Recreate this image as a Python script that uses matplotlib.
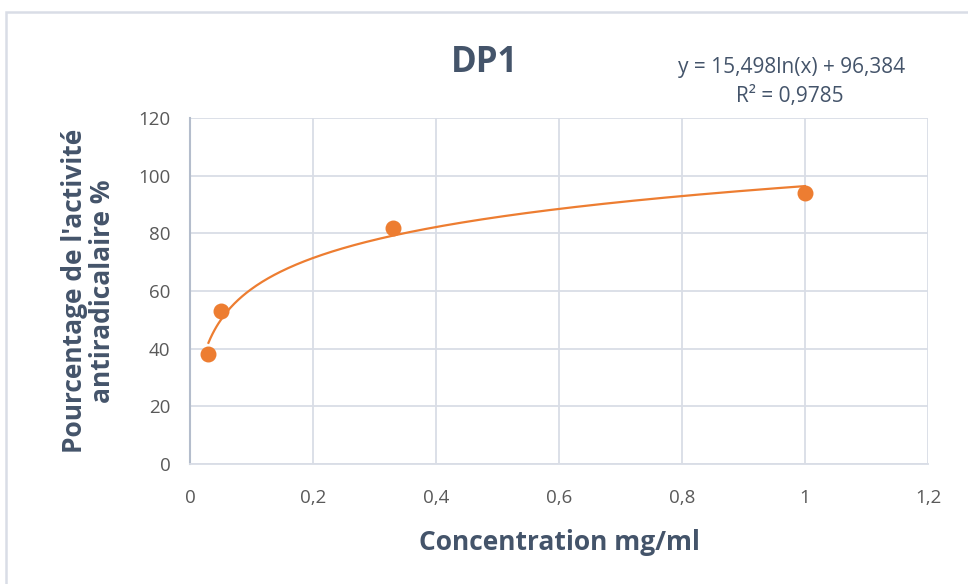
import numpy as np
import matplotlib
matplotlib.use("Agg")
import matplotlib.pyplot as plt
from matplotlib.patches import Rectangle
from matplotlib.ticker import FuncFormatter

# Measured data
concentration = [0.03, 0.05, 0.33, 1.0]
activity = [38, 53, 82, 94]

# Logarithmic trendline coefficients
slope = 15.498
intercept = 96.384
r_squared = 0.9785

x_ticks = [0, 0.2, 0.4, 0.6, 0.8, 1.0, 1.2]
y_ticks = [0, 20, 40, 60, 80, 100, 120]

plt.rcParams['font.family'] = ['Open Sans', 'DejaVu Sans']

text_col = '#44546A'
tick_col = '#595959'
grid_col = '#D9DDE6'
orange = '#ED7D31'

fig = plt.figure(figsize=(9.68, 5.84), dpi=100)
fig.patch.set_facecolor('white')

# chart frame
fig.patches.append(Rectangle((6 / 968, -0.05), 1.1, 1 - 12 / 584 + 0.05,
                             transform=fig.transFigure, fill=False,
                             edgecolor=grid_col, linewidth=1.8, zorder=0))

ax = fig.add_axes([190 / 968, 1 - 464 / 584, (928 - 190) / 968, (464 - 118) / 584])
ax.set_xlim(0, 1.2)
ax.set_ylim(0, 120)
ax.set_xticks(x_ticks)
ax.set_yticks(y_ticks)

def comma_fmt(v, pos):
    if abs(v - round(v)) < 1e-9:
        return f"{int(round(v))}"
    return f"{v:.1f}".replace('.', ',')

ax.xaxis.set_major_formatter(FuncFormatter(comma_fmt))
ax.yaxis.set_major_formatter(FuncFormatter(comma_fmt))

ax.grid(True, color=grid_col, linewidth=1.3)
ax.set_axisbelow(True)
for side in ['top', 'right']:
    ax.spines[side].set_visible(False)
ax.spines['bottom'].set_color(grid_col)
ax.spines['bottom'].set_linewidth(1.3)
ax.spines['left'].set_color('#B4BDCC')
ax.spines['left'].set_linewidth(1.5)
ax.tick_params(length=0, labelsize=13.5, labelcolor=tick_col)
ax.tick_params(axis='x', pad=18)
ax.tick_params(axis='y', pad=14)

# trendline
xs = np.linspace(min(concentration), max(concentration), 300)
ax.plot(xs, slope * np.log(xs) + intercept, color=orange, linewidth=1.6, zorder=3)
ax.scatter(concentration, activity, s=110, color=orange, zorder=4, clip_on=False)

ax.set_xlabel('Concentration mg/ml', fontsize=19, fontweight='bold', color=text_col, labelpad=16)
ax.set_ylabel("Pourcentage de l'activité\nantiradicalaire %", fontsize=19, fontweight='bold',
              color=text_col, labelpad=16, linespacing=1.05, multialignment='center')

fig.text(485 / 968, 1 - 63 / 584, 'DP1', fontsize=25, fontweight='bold', color=text_col,
         ha='center', va='center')
fig.text(792 / 968, 1 - 68 / 584, 'y = 15,498ln(x) + 96,384', fontsize=15, color=text_col,
         ha='center', va='center')
fig.text(790 / 968, 1 - 97 / 584, 'R² = 0,9785', fontsize=15, color=text_col,
         ha='center', va='center')

fig.savefig('out.png', dpi=100)
